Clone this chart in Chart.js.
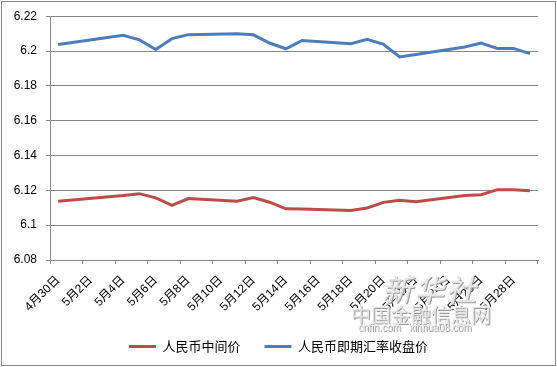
<!DOCTYPE html>
<html>
<head>
<meta charset="utf-8">
<script src="https://cdn.jsdelivr.net/npm/chart.js@4/dist/chart.umd.min.js"></script>
<style>
  html, body { margin: 0; padding: 0; background: #fff; }
  #wrap { position: relative; width: 557px; height: 367px; }
  #frame { position: absolute; left: 1px; top: 1px; width: 555px; height: 365px;
           box-sizing: border-box; border: 1px solid #868686; pointer-events: none; }
  .wm { position: absolute; color: #e6e6e6; font-family: "Noto Sans CJK SC", sans-serif;
        text-shadow: 1px 1px 0 #9a9a9a, -1px -1px 0 #fff; pointer-events: none; white-space: nowrap; }
</style>
</head>
<body>
<div id="wrap">
  <canvas id="rateChart" width="557" height="367"></canvas>
  <div class="wm" style="left:382px; top:266px; font-size:30px; font-style:italic; letter-spacing:2px;">新华社</div>
  <div class="wm" style="left:351px; top:300px; font-size:20px; letter-spacing:0px;">中国金融信息网</div>
  <div class="wm" style="left:358px; top:322px; font-size:10px; font-family:'Liberation Sans',sans-serif;">cnfin.com&nbsp;&nbsp;&nbsp;xinhua08.com</div>
  <div id="frame"></div>
</div>
<script>
"use strict";
// daily slots from 4/30 to 5/29, null = no fixing that day
let dayLabels = ["4月30日", "5月1日", "5月2日", "5月3日", "5月4日", "5月5日", "5月6日", "5月7日",
  "5月8日", "5月9日", "5月10日", "5月11日", "5月12日", "5月13日", "5月14日", "5月15日",
  "5月16日", "5月17日", "5月18日", "5月19日", "5月20日", "5月21日", "5月22日", "5月23日",
  "5月24日", "5月25日", "5月26日", "5月27日", "5月28日", "5月29日"];
let midRate = [6.1137, null, null, null, 6.1170, 6.1181, 6.1157, 6.1114, 6.1153, null, null,
  6.1137, 6.1158, 6.1132, 6.1094, 6.1093, null, null, 6.1084, 6.1099, 6.1131, 6.1143, 6.1134,
  null, null, 6.1170, 6.1175, 6.1204, 6.1204, 6.1197];
let spotRate = [6.2037, null, null, null, 6.2090, 6.2064, 6.2009, 6.2071, 6.2094, null, null,
  6.2099, 6.2093, 6.2046, 6.2013, 6.2061, null, null, 6.2042, 6.2067, 6.2038, 6.1966, 6.1980,
  null, null, 6.2023, 6.2046, 6.2015, 6.2015, 6.1985];
let seriesNames = ["人民币中间价", "人民币即期汇率收盘价"];
let yMin = 6.08, yMax = 6.22, yStep = 0.02;

let gridGray = "#868686";
let every2 = function(ctx){
  return (ctx.index === undefined || ctx.index % 2 === 0) ? gridGray : "rgba(0,0,0,0)";
};

let rateCanvas = document.getElementById("rateChart");
let rateChart = new Chart(rateCanvas, {
  type: "line",
  data: {
    labels: dayLabels,
    datasets: [
      {
        label: seriesNames[0],
        data: midRate,
        borderColor: "#be4b48",
        backgroundColor: "#be4b48",
        borderWidth: 3,
        pointRadius: 0,
        tension: 0,
        spanGaps: true
      },
      {
        label: seriesNames[1],
        data: spotRate,
        borderColor: "#4a7ebb",
        backgroundColor: "#4a7ebb",
        borderWidth: 3,
        pointRadius: 0,
        tension: 0,
        spanGaps: true
      }
    ]
  },
  options: {
    responsive: false,
    animation: false,
    layout: { padding: { top: 16, right: 0, bottom: 4, left: 0 } },
    plugins: {
      tooltip: { enabled: false },
      legend: {
        position: "bottom",
        labels: {
          usePointStyle: true,
          pointStyle: "line",
          pointStyleWidth: 27,
          color: "#000",
          padding: 24,
          font: { family: "'Noto Sans CJK SC', sans-serif", size: 13 }
        }
      }
    },
    scales: {
      x: {
        type: "category",
        offset: true,
        afterFit: function(scale){ scale.height = 56; },
        grid: {
          offset: true,
          drawOnChartArea: false,
          drawTicks: true,
          tickLength: 4,
          tickColor: every2,
          color: every2
        },
        border: { color: gridGray, width: 1 },
        ticks: {
          autoSkip: false,
          minRotation: 45,
          maxRotation: 45,
          padding: 9,
          color: "#000",
          font: { family: "'Liberation Sans', 'Noto Sans CJK SC', sans-serif", size: 12 },
          callback: function(value, index){
            return index % 2 === 0 ? this.getLabelForValue(value) : "";
          }
        }
      },
      y: {
        min: yMin,
        max: yMax,
        afterFit: function(scale){ scale.width = 50; },
        grid: { color: gridGray, tickColor: gridGray, tickLength: 4, lineWidth: 1 },
        border: { color: gridGray, width: 1 },
        ticks: {
          stepSize: yStep,
          padding: 9,
          color: "#000",
          font: { family: "'Liberation Sans', sans-serif", size: 12 },
          callback: function(v){ return String(Number(v.toFixed(2))); }
        }
      },
      // empty right margin so the legend stays centred on the whole picture
      yRight: {
        position: "right",
        min: yMin,
        max: yMax,
        afterFit: function(scale){ scale.width = 19; },
        grid: { display: false },
        border: { display: false },
        ticks: { display: false }
      }
    }
  }
});
</script>
</body>
</html>
